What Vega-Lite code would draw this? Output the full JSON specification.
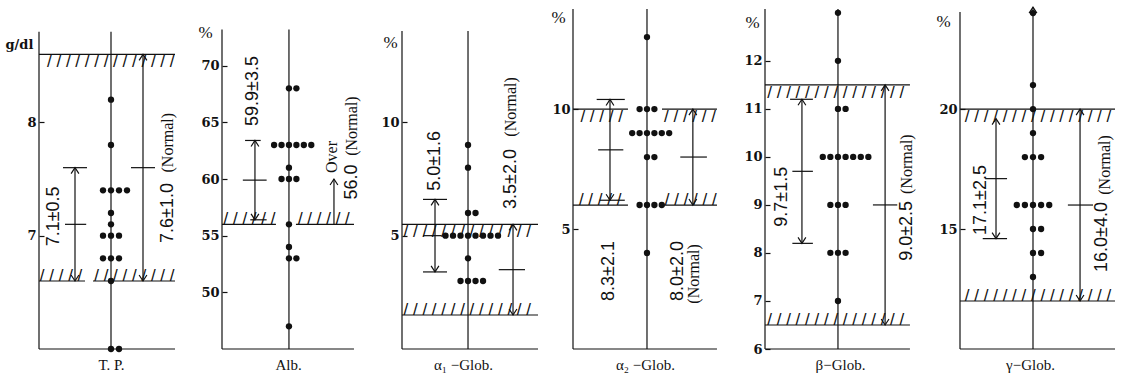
{
"$schema": "https://vega.github.io/schema/vega-lite/v6.json",
"background": "white",
"padding": {"left": 5, "top": 4, "right": 2, "bottom": 2},
"bounds": "flush",
"spacing": 35,
"config": {
 "view": {"stroke": null},
 "axis": {"grid": false, "domain": false, "labelColor": "#111", "tickColor": "#111", "titleColor": "#111"},
 "axisY": {"labelFont": "DejaVu Serif", "labelFontWeight": "bold", "labelFontSize": 13, "tickSize": -5, "tickWidth": 1.2, "labelPadding": 8, "titleFont": "Liberation Serif", "titleFontSize": 17, "titleFontWeight": "normal"},
 "axisX": {"titleFont": "Liberation Serif", "titleFontSize": 15, "titleFontWeight": "normal"}
},
"datasets": {
 "segs": [
  {"p":1,"x":-9,"y":6,"x2":-9,"y2":8.8},{"p":1,"x":0,"y":6,"x2":0,"y2":8.8},{"p":1,"x":-9,"y":6,"x2":8,"y2":6},
  {"p":1,"x":-9,"y":8.6,"x2":8,"y2":8.6},{"p":1,"x":-9,"y":6.6,"x2":-3.25,"y2":6.6},{"p":1,"x":-2.25,"y":6.6,"x2":8,"y2":6.6},
  {"p":1,"x":-4.5,"y":6.6,"x2":-4.5,"y2":7.6},{"p":1,"x":-6,"y":7.6,"x2":-3,"y2":7.6},{"p":1,"x":-5.75,"y":7.1,"x2":-3.1,"y2":7.1},
  {"p":1,"x":4,"y":6.6,"x2":4,"y2":8.6},{"p":1,"x":2.5,"y":7.6,"x2":5.5,"y2":7.6},
  {"p":2,"x":-9,"y":45,"x2":-9,"y2":73.2},{"p":2,"x":0,"y":45,"x2":0,"y2":73.2},{"p":2,"x":-9,"y":45,"x2":8.74,"y2":45},
  {"p":2,"x":-9,"y":56,"x2":-1.75,"y2":56},{"p":2,"x":0.94,"y":56,"x2":8.74,"y2":56},
  {"p":2,"x":-4.57,"y":56.4,"x2":-4.57,"y2":63.4},{"p":2,"x":-5.9,"y":63.4,"x2":-3.8,"y2":63.4},{"p":2,"x":-6.2,"y":59.9,"x2":-3,"y2":59.9},
  {"p":2,"x":-5.2,"y":56.4,"x2":-3,"y2":56.4},{"p":2,"x":6.05,"y":56,"x2":6.05,"y2":60},
  {"p":3,"x":-8.8,"y":0,"x2":-8.8,"y2":14.03},{"p":3,"x":0,"y":0,"x2":0,"y2":14.03},{"p":3,"x":-8.8,"y":0,"x2":9.33,"y2":0},
  {"p":3,"x":-8.8,"y":5.5,"x2":9.33,"y2":5.5},{"p":3,"x":-8.8,"y":1.5,"x2":9.33,"y2":1.5},
  {"p":3,"x":-4.4,"y":3.4,"x2":-4.4,"y2":6.6},{"p":3,"x":-6,"y":6.6,"x2":-2.8,"y2":6.6},{"p":3,"x":-6,"y":5,"x2":-3.5,"y2":5},
  {"p":3,"x":-6,"y":3.4,"x2":-2.8,"y2":3.4},{"p":3,"x":6,"y":1.5,"x2":6,"y2":5.5},{"p":3,"x":4.1,"y":3.5,"x2":7.6,"y2":3.5},
  {"p":4,"x":-10,"y":0,"x2":-10,"y2":14.17},{"p":4,"x":0,"y":0,"x2":0,"y2":14.17},{"p":4,"x":-10,"y":0,"x2":9.46,"y2":0},
  {"p":4,"x":-10,"y":10,"x2":-2.57,"y2":10},{"p":4,"x":2.03,"y":10,"x2":9.46,"y2":10},
  {"p":4,"x":-10,"y":6,"x2":-2.57,"y2":6},{"p":4,"x":2.03,"y":6,"x2":9.46,"y2":6},
  {"p":4,"x":-5,"y":6.2,"x2":-5,"y2":10.4},{"p":4,"x":-6.8,"y":10.4,"x2":-3,"y2":10.4},{"p":4,"x":-6.6,"y":8.3,"x2":-3.2,"y2":8.3},
  {"p":4,"x":-6.4,"y":6.2,"x2":-3,"y2":6.2},{"p":4,"x":6.2,"y":6,"x2":6.2,"y2":10},{"p":4,"x":4.5,"y":8,"x2":8.1,"y2":8},
  {"p":5,"x":-9.6,"y":6,"x2":-9.6,"y2":13.08},{"p":5,"x":0,"y":6,"x2":0,"y2":13.08},{"p":5,"x":-9.6,"y":6,"x2":9.47,"y2":6},
  {"p":5,"x":-9.6,"y":11.5,"x2":9.47,"y2":11.5},{"p":5,"x":-9.6,"y":6.5,"x2":9.47,"y2":6.5},
  {"p":5,"x":-4.74,"y":8.2,"x2":-4.74,"y2":11.2},{"p":5,"x":-6.3,"y":11.2,"x2":-3.3,"y2":11.2},{"p":5,"x":-6,"y":9.7,"x2":-3.3,"y2":9.7},
  {"p":5,"x":-6,"y":8.2,"x2":-3.3,"y2":8.2},{"p":5,"x":6.2,"y":6.5,"x2":6.2,"y2":11.5},{"p":5,"x":4.6,"y":9,"x2":7.8,"y2":9},
  {"p":6,"x":-9,"y":10,"x2":-9,"y2":24.05},{"p":6,"x":0,"y":10,"x2":0,"y2":24.25},{"p":6,"x":-9,"y":10,"x2":10.11,"y2":10},
  {"p":6,"x":-9,"y":20,"x2":10.11,"y2":20},{"p":6,"x":-9,"y":12,"x2":10.11,"y2":12},
  {"p":6,"x":-4.56,"y":14.6,"x2":-4.56,"y2":19.6},{"p":6,"x":-5.9,"y":17.1,"x2":-3.2,"y2":17.1},{"p":6,"x":-6.2,"y":14.6,"x2":-3.2,"y2":14.6},
  {"p":6,"x":5.8,"y":12,"x2":5.8,"y2":20},{"p":6,"x":4.3,"y":16,"x2":7.4,"y2":16}
 ],
 "dots": [
  {"p":1,"x":0,"y":8.2},{"p":1,"x":0,"y":7.8},{"p":1,"x":-1,"y":7.4},{"p":1,"x":0,"y":7.4},{"p":1,"x":1,"y":7.4},{"p":1,"x":2,"y":7.4},
  {"p":1,"x":0,"y":7.2},{"p":1,"x":0,"y":7.1},{"p":1,"x":-1,"y":7},{"p":1,"x":0,"y":7},{"p":1,"x":1,"y":7},
  {"p":1,"x":-1,"y":6.8},{"p":1,"x":0,"y":6.8},{"p":1,"x":1,"y":6.8},{"p":1,"x":0,"y":6.6},{"p":1,"x":0,"y":6},{"p":1,"x":1,"y":6},
  {"p":2,"x":0,"y":68},{"p":2,"x":1,"y":68},{"p":2,"x":-2,"y":63},{"p":2,"x":-1,"y":63},{"p":2,"x":0,"y":63},{"p":2,"x":1,"y":63},
  {"p":2,"x":2,"y":63},{"p":2,"x":3,"y":63},{"p":2,"x":0,"y":61},{"p":2,"x":-1,"y":60},{"p":2,"x":0,"y":60},{"p":2,"x":1,"y":60},
  {"p":2,"x":0,"y":56},{"p":2,"x":0,"y":54},{"p":2,"x":0,"y":53},{"p":2,"x":1,"y":53},{"p":2,"x":0,"y":47},
  {"p":3,"x":0,"y":9},{"p":3,"x":0,"y":8},{"p":3,"x":0,"y":6},{"p":3,"x":1,"y":6},{"p":3,"x":-3,"y":5},{"p":3,"x":-2,"y":5},
  {"p":3,"x":-1,"y":5},{"p":3,"x":0,"y":5},{"p":3,"x":1,"y":5},{"p":3,"x":2,"y":5},{"p":3,"x":3,"y":5},{"p":3,"x":4,"y":5},
  {"p":3,"x":0,"y":4},{"p":3,"x":-1,"y":3},{"p":3,"x":0,"y":3},{"p":3,"x":1,"y":3},{"p":3,"x":2,"y":3},
  {"p":4,"x":0,"y":13},{"p":4,"x":-1,"y":10},{"p":4,"x":0,"y":10},{"p":4,"x":1,"y":10},{"p":4,"x":-2,"y":9},{"p":4,"x":-1,"y":9},
  {"p":4,"x":0,"y":9},{"p":4,"x":1,"y":9},{"p":4,"x":2,"y":9},{"p":4,"x":3,"y":9},{"p":4,"x":0,"y":8},{"p":4,"x":1,"y":8},
  {"p":4,"x":-1,"y":6},{"p":4,"x":0,"y":6},{"p":4,"x":1,"y":6},{"p":4,"x":2,"y":6},{"p":4,"x":0,"y":4},
  {"p":5,"x":0,"y":13},{"p":5,"x":0,"y":12},{"p":5,"x":0,"y":11},{"p":5,"x":1,"y":11},{"p":5,"x":-2,"y":10},{"p":5,"x":-1,"y":10},
  {"p":5,"x":0,"y":10},{"p":5,"x":1,"y":10},{"p":5,"x":2,"y":10},{"p":5,"x":3,"y":10},{"p":5,"x":4,"y":10},
  {"p":5,"x":-1,"y":9},{"p":5,"x":0,"y":9},{"p":5,"x":1,"y":9},{"p":5,"x":-1,"y":8},{"p":5,"x":0,"y":8},{"p":5,"x":1,"y":8},{"p":5,"x":0,"y":7},
  {"p":6,"x":0,"y":24},{"p":6,"x":0,"y":21},{"p":6,"x":0,"y":20},{"p":6,"x":0,"y":19},{"p":6,"x":-1,"y":18},{"p":6,"x":0,"y":18},
  {"p":6,"x":1,"y":18},{"p":6,"x":-2,"y":16},{"p":6,"x":-1,"y":16},{"p":6,"x":0,"y":16},{"p":6,"x":1,"y":16},{"p":6,"x":2,"y":16},
  {"p":6,"x":0,"y":15},{"p":6,"x":1,"y":15},{"p":6,"x":0,"y":14},{"p":6,"x":1,"y":14},{"p":6,"x":0,"y":13}
 ],
 "heads": [
  {"p":1,"x":-4.5,"y":7.6,"d":"up"},{"p":1,"x":-4.5,"y":6.6,"d":"down"},{"p":1,"x":4,"y":8.6,"d":"up"},{"p":1,"x":4,"y":6.6,"d":"down"},
  {"p":2,"x":-4.57,"y":63.4,"d":"up"},{"p":2,"x":-4.57,"y":56.4,"d":"down"},{"p":2,"x":6.05,"y":60,"d":"up"},
  {"p":3,"x":-4.4,"y":6.6,"d":"up"},{"p":3,"x":-4.4,"y":3.4,"d":"down"},{"p":3,"x":6,"y":5.5,"d":"up"},{"p":3,"x":6,"y":1.5,"d":"down"},
  {"p":4,"x":-5,"y":10.4,"d":"up"},{"p":4,"x":-5,"y":6.2,"d":"down"},{"p":4,"x":6.2,"y":10,"d":"up"},{"p":4,"x":6.2,"y":6,"d":"down"},
  {"p":5,"x":-4.74,"y":11.2,"d":"up"},{"p":5,"x":-4.74,"y":8.2,"d":"down"},{"p":5,"x":6.2,"y":11.5,"d":"up"},{"p":5,"x":6.2,"y":6.5,"d":"down"},
  {"p":6,"x":-4.56,"y":19.6,"d":"up"},{"p":6,"x":-4.56,"y":14.6,"d":"down"},{"p":6,"x":5.8,"y":20,"d":"up"},{"p":6,"x":5.8,"y":12,"d":"down"},
  {"p":6,"x":0,"y":24.25,"d":"up"}
 ],
 "hatch": [
  {"p":1,"s":"b","x":-8,"y":8.6,"t":"/ / / / / / / / / / / / / /"},
  {"p":1,"s":"a","x":-8.9,"y":6.6,"t":"/ / / / /"},
  {"p":1,"s":"a","x":-2.1,"y":6.6,"t":"/ / / / / / / / /"},
  {"p":2,"s":"a","x":-8.8,"y":56,"t":"/ / / / / /"},
  {"p":2,"s":"a","x":1.2,"y":56,"t":"/ / / / / /"},
  {"p":3,"s":"b","x":-8.6,"y":5.5,"t":"/ / / / / / / / / / / / / /"},
  {"p":3,"s":"a","x":-8.6,"y":1.5,"t":"/ / / / / / / / / / / / / /"},
  {"p":4,"s":"b","x":-9.0,"y":10,"t":"/ / / / /"},
  {"p":4,"s":"b","x":2.3,"y":10,"t":"/ / / / / /"},
  {"p":4,"s":"a","x":-9.2,"y":6,"t":"/ / / / /"},
  {"p":4,"s":"a","x":2.4,"y":6,"t":"/ / / / / /"},
  {"p":5,"s":"b","x":-9.3,"y":11.5,"t":"/ / / / / / / / / / / / / / /"},
  {"p":5,"s":"a","x":-9.3,"y":6.5,"t":"/ / / / / / / / / / / / / / /"},
  {"p":6,"s":"b","x":-8.4,"y":20,"t":"/ / / / / / / / / / / / / / / /"},
  {"p":6,"s":"a","x":-8.4,"y":12,"t":"/ / / / / / / / / / / / / / / /"}
 ],
 "labels": [
  {"p":1,"f":"n","x":-7.1,"y":7.17,"t":"7.1±0.5"},
  {"p":1,"f":"n","x":7.1,"y":7.2,"t":"7.6±1.0"},
  {"p":1,"f":"w","x":7.1,"y":7.82,"t":"(Normal)"},
  {"p":2,"f":"n","x":-4.84,"y":67.76,"t":"59.9±3.5"},
  {"p":2,"f":"w","x":5.8,"y":61.94,"t":"Over"},
  {"p":2,"f":"n","x":8.47,"y":59.73,"t":"56.0"},
  {"p":2,"f":"w","x":8.47,"y":64.67,"t":"(Normal)"},
  {"p":3,"f":"n","x":-4.4,"y":8.3,"t":"5.0±1.6"},
  {"p":3,"f":"n","x":5.73,"y":7.5,"t":"3.5±2.0"},
  {"p":3,"f":"w","x":5.73,"y":10.68,"t":"(Normal)"},
  {"p":4,"f":"n","x":-5.1,"y":3.25,"t":"8.3±2.1"},
  {"p":4,"f":"n","x":4.2,"y":3.25,"t":"8.0±2.0"},
  {"p":4,"f":"w","x":6.4,"y":3.13,"t":"(Normal)"},
  {"p":5,"f":"n","x":-7.37,"y":9.17,"t":"9.7±1.5"},
  {"p":5,"f":"n","x":9.08,"y":8.46,"t":"9.0±2.5"},
  {"p":5,"f":"w","x":9.08,"y":9.85,"t":"(Normal)"},
  {"p":6,"f":"n","x":-6.4,"y":16.21,"t":"17.1±2.5"},
  {"p":6,"f":"n","x":8.5,"y":14.67,"t":"16.0±4.0"},
  {"p":6,"f":"w","x":8.9,"y":17.67,"t":"(Normal)"}
 ]
},
"hconcat": [
 {
  "width": 148, "height": 340,
  "encoding": {
   "x": {"field": "x", "type": "quantitative", "scale": {"domain": [-9, 9.5], "nice": false, "zero": false}, "axis": {"title": "T. P.", "titleX": 72, "titleY": 15, "titleBaseline": "middle", "titleAlign": "center", "titleAngle": 0, "labels": false, "ticks": false, "domain": false}},
   "y": {"field": "y", "type": "quantitative", "scale": {"domain": [6, 9], "nice": false, "zero": false}, "axis": {"values": [7, 8], "title": "g/dl", "titleFont": "DejaVu Serif", "titleFontWeight": "bold", "titleFontSize": 13, "titleX": -34, "titleY": 35, "titleAngle": 0, "titleAlign": "left", "titleBaseline": "middle"}}
  },
  "layer": [
   {"data": {"name": "segs"}, "transform": [{"filter": "datum.p == 1"}], "mark": {"type": "rule", "color": "#111", "strokeWidth": 1.2}, "encoding": {"x2": {"field": "x2"}, "y2": {"field": "y2"}}},
   {"data": {"name": "dots"}, "transform": [{"filter": "datum.p == 1"}], "mark": {"type": "circle", "size": 40, "color": "#111", "opacity": 1}},
   {"data": {"name": "heads"}, "transform": [{"filter": "datum.p == 1"}], "mark": {"type": "point", "filled": false, "size": 144, "color": "#111", "strokeWidth": 1.2, "opacity": 1}, "encoding": {"shape": {"field": "d", "type": "nominal", "scale": {"domain": ["up", "down"], "range": ["M-0.65,1L0,0L0.65,1", "M-0.65,-1L0,0L0.65,-1"]}, "legend": null}}},
   {"data": {"name": "hatch"}, "transform": [{"filter": "datum.p == 1 && datum.s == 'b'"}], "mark": {"type": "text", "align": "left", "baseline": "top", "font": "Liberation Sans", "fontSize": 17, "color": "#111"}, "encoding": {"text": {"field": "t"}}},
   {"data": {"name": "hatch"}, "transform": [{"filter": "datum.p == 1 && datum.s == 'a'"}], "mark": {"type": "text", "align": "left", "baseline": "alphabetic", "font": "Liberation Sans", "fontSize": 17, "color": "#111"}, "encoding": {"text": {"field": "t"}}},
   {"data": {"name": "labels"}, "transform": [{"filter": "datum.p == 1 && datum.f == 'n'"}], "mark": {"type": "text", "angle": 270, "align": "center", "baseline": "middle", "font": "Liberation Sans", "fontSize": 18, "color": "#111"}, "encoding": {"text": {"field": "t"}}},
   {"data": {"name": "labels"}, "transform": [{"filter": "datum.p == 1 && datum.f == 'w'"}], "mark": {"type": "text", "angle": 270, "align": "center", "baseline": "middle", "font": "Liberation Serif", "fontSize": 16, "color": "#111"}, "encoding": {"text": {"field": "t"}}}
  ]
 },
 {
  "width": 145, "height": 340,
  "encoding": {
   "x": {"field": "x", "type": "quantitative", "scale": {"domain": [-9, 10.49], "nice": false, "zero": false}, "axis": {"title": "Alb.", "titleX": 66, "titleY": 15, "titleBaseline": "middle", "titleAlign": "center", "titleAngle": 0, "labels": false, "ticks": false, "domain": false}},
   "y": {"field": "y", "type": "quantitative", "scale": {"domain": [45, 75], "nice": false, "zero": false}, "axis": {"values": [50, 55, 60, 65, 70], "title": "%", "titleX": -17, "titleY": 23, "titleAngle": 0, "titleAlign": "center", "titleBaseline": "middle"}}
  },
  "layer": [
   {"data": {"name": "segs"}, "transform": [{"filter": "datum.p == 2"}], "mark": {"type": "rule", "color": "#111", "strokeWidth": 1.2}, "encoding": {"x2": {"field": "x2"}, "y2": {"field": "y2"}}},
   {"data": {"name": "dots"}, "transform": [{"filter": "datum.p == 2"}], "mark": {"type": "circle", "size": 40, "color": "#111", "opacity": 1}},
   {"data": {"name": "heads"}, "transform": [{"filter": "datum.p == 2"}], "mark": {"type": "point", "filled": false, "size": 144, "color": "#111", "strokeWidth": 1.2, "opacity": 1}, "encoding": {"shape": {"field": "d", "type": "nominal", "scale": {"domain": ["up", "down"], "range": ["M-0.65,1L0,0L0.65,1", "M-0.65,-1L0,0L0.65,-1"]}, "legend": null}}},
   {"data": {"name": "hatch"}, "transform": [{"filter": "datum.p == 2 && datum.s == 'b'"}], "mark": {"type": "text", "align": "left", "baseline": "top", "font": "Liberation Sans", "fontSize": 17, "color": "#111"}, "encoding": {"text": {"field": "t"}}},
   {"data": {"name": "hatch"}, "transform": [{"filter": "datum.p == 2 && datum.s == 'a'"}], "mark": {"type": "text", "align": "left", "baseline": "alphabetic", "font": "Liberation Sans", "fontSize": 17, "color": "#111"}, "encoding": {"text": {"field": "t"}}},
   {"data": {"name": "labels"}, "transform": [{"filter": "datum.p == 2 && datum.f == 'n'"}], "mark": {"type": "text", "angle": 270, "align": "center", "baseline": "middle", "font": "Liberation Sans", "fontSize": 18, "color": "#111"}, "encoding": {"text": {"field": "t"}}},
   {"data": {"name": "labels"}, "transform": [{"filter": "datum.p == 2 && datum.f == 'w'"}], "mark": {"type": "text", "angle": 270, "align": "center", "baseline": "middle", "font": "Liberation Serif", "fontSize": 16, "color": "#111"}, "encoding": {"text": {"field": "t"}}}
  ]
 },
 {
  "width": 136, "height": 340,
  "encoding": {
   "x": {"field": "x", "type": "quantitative", "scale": {"domain": [-8.8, 9.33], "nice": false, "zero": false}, "axis": {"title": "α₁ −Glob.", "titleX": 61, "titleY": 15, "titleBaseline": "middle", "titleAlign": "center", "titleAngle": 0, "labels": false, "ticks": false, "domain": false}},
   "y": {"field": "y", "type": "quantitative", "scale": {"domain": [0, 15], "nice": false, "zero": false}, "axis": {"values": [5, 10], "title": "%", "titleX": -12, "titleY": 33, "titleAngle": 0, "titleAlign": "center", "titleBaseline": "middle"}}
  },
  "layer": [
   {"data": {"name": "segs"}, "transform": [{"filter": "datum.p == 3"}], "mark": {"type": "rule", "color": "#111", "strokeWidth": 1.2}, "encoding": {"x2": {"field": "x2"}, "y2": {"field": "y2"}}},
   {"data": {"name": "dots"}, "transform": [{"filter": "datum.p == 3"}], "mark": {"type": "circle", "size": 40, "color": "#111", "opacity": 1}},
   {"data": {"name": "heads"}, "transform": [{"filter": "datum.p == 3"}], "mark": {"type": "point", "filled": false, "size": 144, "color": "#111", "strokeWidth": 1.2, "opacity": 1}, "encoding": {"shape": {"field": "d", "type": "nominal", "scale": {"domain": ["up", "down"], "range": ["M-0.65,1L0,0L0.65,1", "M-0.65,-1L0,0L0.65,-1"]}, "legend": null}}},
   {"data": {"name": "hatch"}, "transform": [{"filter": "datum.p == 3 && datum.s == 'b'"}], "mark": {"type": "text", "align": "left", "baseline": "top", "font": "Liberation Sans", "fontSize": 17, "color": "#111"}, "encoding": {"text": {"field": "t"}}},
   {"data": {"name": "hatch"}, "transform": [{"filter": "datum.p == 3 && datum.s == 'a'"}], "mark": {"type": "text", "align": "left", "baseline": "alphabetic", "font": "Liberation Sans", "fontSize": 17, "color": "#111"}, "encoding": {"text": {"field": "t"}}},
   {"data": {"name": "labels"}, "transform": [{"filter": "datum.p == 3 && datum.f == 'n'"}], "mark": {"type": "text", "angle": 270, "align": "center", "baseline": "middle", "font": "Liberation Sans", "fontSize": 18, "color": "#111"}, "encoding": {"text": {"field": "t"}}},
   {"data": {"name": "labels"}, "transform": [{"filter": "datum.p == 3 && datum.f == 'w'"}], "mark": {"type": "text", "angle": 270, "align": "center", "baseline": "middle", "font": "Liberation Serif", "fontSize": 16, "color": "#111"}, "encoding": {"text": {"field": "t"}}}
  ]
 },
 {
  "width": 157, "height": 340,
  "encoding": {
   "x": {"field": "x", "type": "quantitative", "scale": {"domain": [-10, 11.22], "nice": false, "zero": false}, "axis": {"title": "α₂ −Glob.", "titleX": 72, "titleY": 15, "titleBaseline": "middle", "titleAlign": "center", "titleAngle": 0, "labels": false, "ticks": false, "domain": false}},
   "y": {"field": "y", "type": "quantitative", "scale": {"domain": [0, 14.17], "nice": false, "zero": false}, "axis": {"values": [5, 10], "title": "%", "titleX": -15, "titleY": 8, "titleAngle": 0, "titleAlign": "center", "titleBaseline": "middle"}}
  },
  "layer": [
   {"data": {"name": "segs"}, "transform": [{"filter": "datum.p == 4"}], "mark": {"type": "rule", "color": "#111", "strokeWidth": 1.2}, "encoding": {"x2": {"field": "x2"}, "y2": {"field": "y2"}}},
   {"data": {"name": "dots"}, "transform": [{"filter": "datum.p == 4"}], "mark": {"type": "circle", "size": 40, "color": "#111", "opacity": 1}},
   {"data": {"name": "heads"}, "transform": [{"filter": "datum.p == 4"}], "mark": {"type": "point", "filled": false, "size": 144, "color": "#111", "strokeWidth": 1.2, "opacity": 1}, "encoding": {"shape": {"field": "d", "type": "nominal", "scale": {"domain": ["up", "down"], "range": ["M-0.65,1L0,0L0.65,1", "M-0.65,-1L0,0L0.65,-1"]}, "legend": null}}},
   {"data": {"name": "hatch"}, "transform": [{"filter": "datum.p == 4 && datum.s == 'b'"}], "mark": {"type": "text", "align": "left", "baseline": "top", "font": "Liberation Sans", "fontSize": 17, "color": "#111"}, "encoding": {"text": {"field": "t"}}},
   {"data": {"name": "hatch"}, "transform": [{"filter": "datum.p == 4 && datum.s == 'a'"}], "mark": {"type": "text", "align": "left", "baseline": "alphabetic", "font": "Liberation Sans", "fontSize": 17, "color": "#111"}, "encoding": {"text": {"field": "t"}}},
   {"data": {"name": "labels"}, "transform": [{"filter": "datum.p == 4 && datum.f == 'n'"}], "mark": {"type": "text", "angle": 270, "align": "center", "baseline": "middle", "font": "Liberation Sans", "fontSize": 18, "color": "#111"}, "encoding": {"text": {"field": "t"}}},
   {"data": {"name": "labels"}, "transform": [{"filter": "datum.p == 4 && datum.f == 'w'"}], "mark": {"type": "text", "angle": 270, "align": "center", "baseline": "middle", "font": "Liberation Serif", "fontSize": 16, "color": "#111"}, "encoding": {"text": {"field": "t"}}}
  ]
 },
 {
  "width": 160, "height": 340,
  "encoding": {
   "x": {"field": "x", "type": "quantitative", "scale": {"domain": [-9.6, 11.45], "nice": false, "zero": false}, "axis": {"title": "β−Glob.", "titleX": 75, "titleY": 15, "titleBaseline": "middle", "titleAlign": "center", "titleAngle": 0, "labels": false, "ticks": false, "domain": false}},
   "y": {"field": "y", "type": "quantitative", "scale": {"domain": [6, 13.08], "nice": false, "zero": false}, "axis": {"values": [6, 7, 8, 9, 10, 11, 12], "title": "%", "titleX": -13, "titleY": 13, "titleAngle": 0, "titleAlign": "center", "titleBaseline": "middle"}}
  },
  "layer": [
   {"data": {"name": "segs"}, "transform": [{"filter": "datum.p == 5"}], "mark": {"type": "rule", "color": "#111", "strokeWidth": 1.2}, "encoding": {"x2": {"field": "x2"}, "y2": {"field": "y2"}}},
   {"data": {"name": "dots"}, "transform": [{"filter": "datum.p == 5"}], "mark": {"type": "circle", "size": 40, "color": "#111", "opacity": 1}},
   {"data": {"name": "heads"}, "transform": [{"filter": "datum.p == 5"}], "mark": {"type": "point", "filled": false, "size": 144, "color": "#111", "strokeWidth": 1.2, "opacity": 1}, "encoding": {"shape": {"field": "d", "type": "nominal", "scale": {"domain": ["up", "down"], "range": ["M-0.65,1L0,0L0.65,1", "M-0.65,-1L0,0L0.65,-1"]}, "legend": null}}},
   {"data": {"name": "hatch"}, "transform": [{"filter": "datum.p == 5 && datum.s == 'b'"}], "mark": {"type": "text", "align": "left", "baseline": "top", "font": "Liberation Sans", "fontSize": 17, "color": "#111"}, "encoding": {"text": {"field": "t"}}},
   {"data": {"name": "hatch"}, "transform": [{"filter": "datum.p == 5 && datum.s == 'a'"}], "mark": {"type": "text", "align": "left", "baseline": "alphabetic", "font": "Liberation Sans", "fontSize": 17, "color": "#111"}, "encoding": {"text": {"field": "t"}}},
   {"data": {"name": "labels"}, "transform": [{"filter": "datum.p == 5 && datum.f == 'n'"}], "mark": {"type": "text", "angle": 270, "align": "center", "baseline": "middle", "font": "Liberation Sans", "fontSize": 18, "color": "#111"}, "encoding": {"text": {"field": "t"}}},
   {"data": {"name": "labels"}, "transform": [{"filter": "datum.p == 5 && datum.f == 'w'"}], "mark": {"type": "text", "angle": 270, "align": "center", "baseline": "middle", "font": "Liberation Serif", "fontSize": 16, "color": "#111"}, "encoding": {"text": {"field": "t"}}}
  ]
 },
 {
  "width": 155, "height": 340,
  "encoding": {
   "x": {"field": "x", "type": "quantitative", "scale": {"domain": [-9, 10.11], "nice": false, "zero": false}, "axis": {"title": "γ−Glob.", "titleX": 70, "titleY": 15, "titleBaseline": "middle", "titleAlign": "center", "titleAngle": 0, "labels": false, "ticks": false, "domain": false}},
   "y": {"field": "y", "type": "quantitative", "scale": {"domain": [10, 24.17], "nice": false, "zero": false}, "axis": {"values": [15, 20], "title": "%", "titleX": -17, "titleY": 12, "titleAngle": 0, "titleAlign": "center", "titleBaseline": "middle"}}
  },
  "layer": [
   {"data": {"name": "segs"}, "transform": [{"filter": "datum.p == 6"}], "mark": {"type": "rule", "color": "#111", "strokeWidth": 1.2}, "encoding": {"x2": {"field": "x2"}, "y2": {"field": "y2"}}},
   {"data": {"name": "dots"}, "transform": [{"filter": "datum.p == 6"}], "mark": {"type": "circle", "size": 40, "color": "#111", "opacity": 1}},
   {"data": {"name": "heads"}, "transform": [{"filter": "datum.p == 6"}], "mark": {"type": "point", "filled": false, "size": 144, "color": "#111", "strokeWidth": 1.2, "opacity": 1}, "encoding": {"shape": {"field": "d", "type": "nominal", "scale": {"domain": ["up", "down"], "range": ["M-0.65,1L0,0L0.65,1", "M-0.65,-1L0,0L0.65,-1"]}, "legend": null}}},
   {"data": {"name": "hatch"}, "transform": [{"filter": "datum.p == 6 && datum.s == 'b'"}], "mark": {"type": "text", "align": "left", "baseline": "top", "font": "Liberation Sans", "fontSize": 17, "color": "#111"}, "encoding": {"text": {"field": "t"}}},
   {"data": {"name": "hatch"}, "transform": [{"filter": "datum.p == 6 && datum.s == 'a'"}], "mark": {"type": "text", "align": "left", "baseline": "alphabetic", "font": "Liberation Sans", "fontSize": 17, "color": "#111"}, "encoding": {"text": {"field": "t"}}},
   {"data": {"name": "labels"}, "transform": [{"filter": "datum.p == 6 && datum.f == 'n'"}], "mark": {"type": "text", "angle": 270, "align": "center", "baseline": "middle", "font": "Liberation Sans", "fontSize": 18, "color": "#111"}, "encoding": {"text": {"field": "t"}}},
   {"data": {"name": "labels"}, "transform": [{"filter": "datum.p == 6 && datum.f == 'w'"}], "mark": {"type": "text", "angle": 270, "align": "center", "baseline": "middle", "font": "Liberation Serif", "fontSize": 16, "color": "#111"}, "encoding": {"text": {"field": "t"}}}
  ]
 }
]
}
